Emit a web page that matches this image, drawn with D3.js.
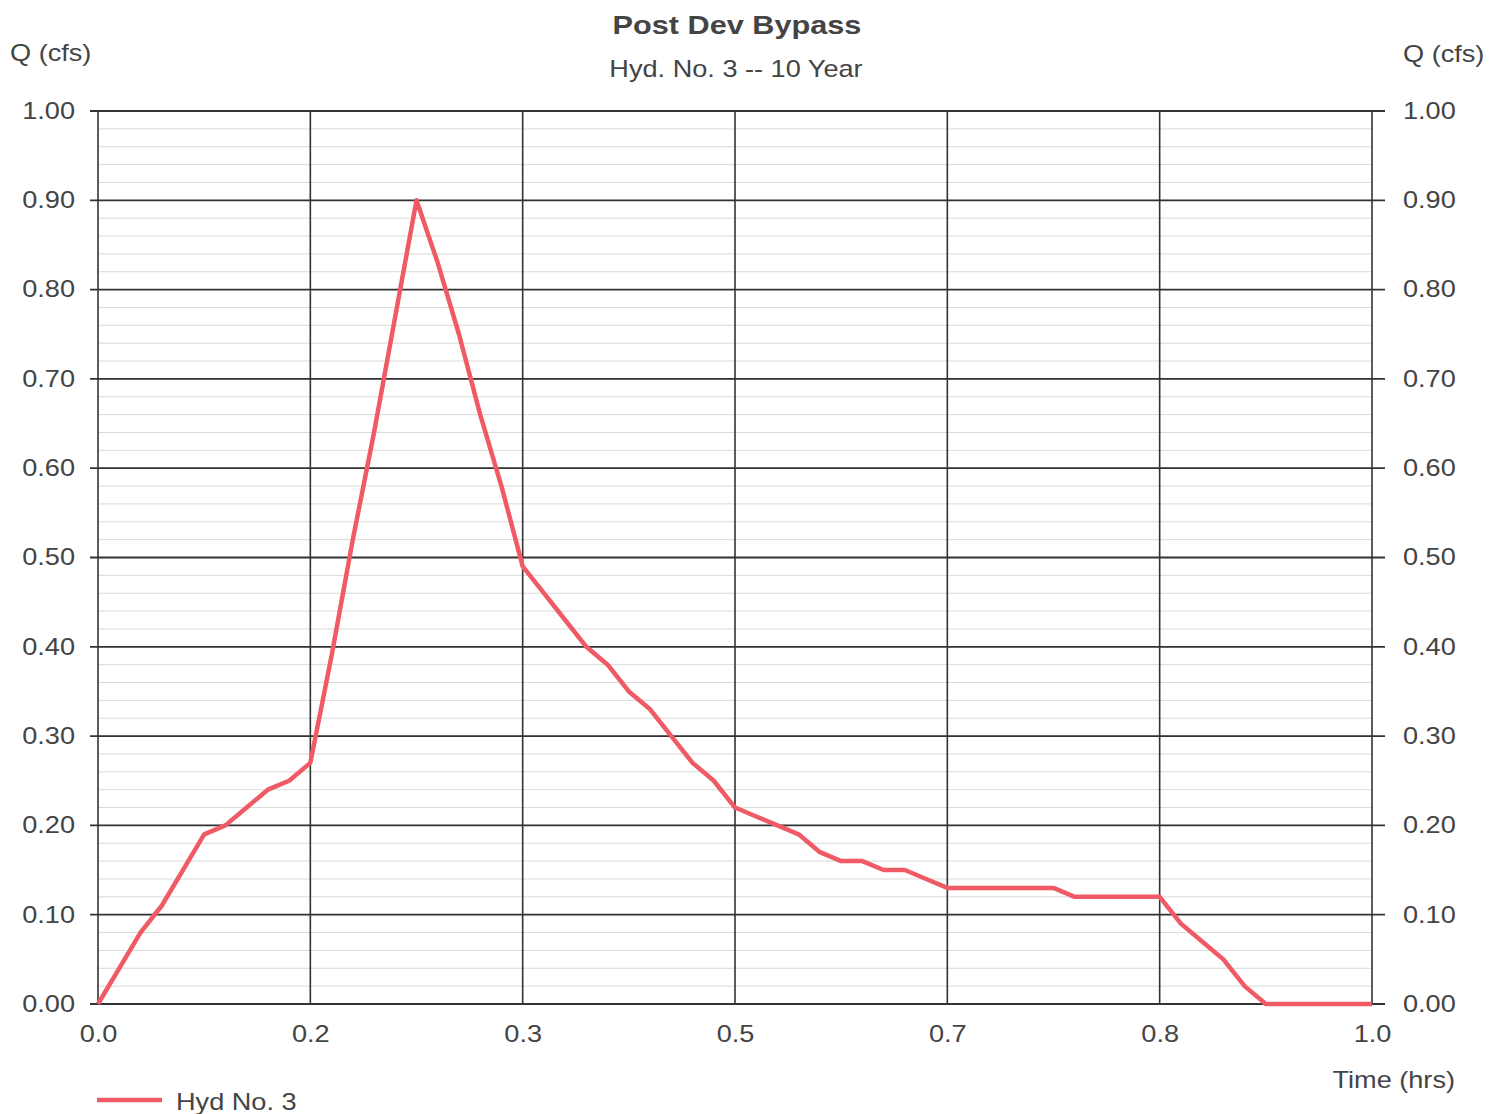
<!DOCTYPE html>
<html>
<head>
<meta charset="utf-8">
<script src="https://cdn.jsdelivr.net/npm/d3@7"></script>
<style>
  body { margin: 0; background: #fff; }
  svg text { font-family: "Liberation Sans", Arial, sans-serif; fill: #444; }
</style>
</head>
<body>
<svg id="chart" width="1501" height="1114"></svg>
<script>
// hydrograph ordinates, 1-minute steps
const timeMin = [0, 1, 2, 3, 4, 5, 6, 7, 8, 9, 10, 11, 12, 13, 14, 15, 16, 17, 18, 19, 20,
  21, 22, 23, 24, 25, 26, 27, 28, 29, 30, 31, 32, 33, 34, 35, 36, 37, 38, 39, 40,
  41, 42, 43, 44, 45, 46, 47, 48, 49, 50, 51, 52, 53, 54, 55, 56, 57, 58, 59, 60];
const flowCfs = [0, 0.04, 0.08, 0.11, 0.15, 0.19, 0.20, 0.22, 0.24, 0.25, 0.27,
  0.39, 0.52, 0.64, 0.77, 0.90, 0.83, 0.75, 0.66, 0.58, 0.49,
  0.46, 0.43, 0.40, 0.38, 0.35, 0.33, 0.30, 0.27, 0.25, 0.22,
  0.21, 0.20, 0.19, 0.17, 0.16, 0.16, 0.15, 0.15, 0.14, 0.13,
  0.13, 0.13, 0.13, 0.13, 0.13, 0.12, 0.12, 0.12, 0.12, 0.12,
  0.09, 0.07, 0.05, 0.02, 0, 0, 0, 0, 0, 0];

const xTicksMin = [0, 10, 20, 30, 40, 50, 60];
const xTickLabels = ["0.0", "0.2", "0.3", "0.5", "0.7", "0.8", "1.0"];
const yTicks = [0, 0.1, 0.2, 0.3, 0.4, 0.5, 0.6, 0.7, 0.8, 0.9, 1.0];
const yMinorTicks = d3.range(0, 1.0001, 0.02);

const plotLeft = 98, plotRight = 1372, plotTop = 111, plotBottom = 1004;
const stretch = "scale(1.18,1)"; // the source lettering is wide
const svg = d3.select("#chart");

const x = d3.scaleLinear().domain([0, 60]).range([plotLeft, plotRight]);
const y = d3.scaleLinear().domain([0, 1]).range([plotBottom, plotTop]);

// minor horizontal grid
svg.append("g")
  .selectAll("line")
  .data(yMinorTicks)
  .enter()
  .append("line")
  .attr("x1", plotLeft).attr("x2", plotRight)
  .attr("y1", d => y(d)).attr("y2", d => y(d))
  .attr("stroke", "#d9d9d9")
  .attr("stroke-width", 1);

// major horizontal grid with tick stubs on both sides
svg.append("g")
  .selectAll("line")
  .data(yTicks)
  .enter()
  .append("line")
  .attr("x1", plotLeft - 8).attr("x2", plotRight + 13)
  .attr("y1", d => y(d)).attr("y2", d => y(d))
  .attr("stroke", "#333")
  .attr("stroke-width", 1.8);

// vertical grid
svg.append("g")
  .selectAll("line")
  .data(xTicksMin)
  .enter()
  .append("line")
  .attr("x1", d => x(d)).attr("x2", d => x(d))
  .attr("y1", plotTop).attr("y2", plotBottom)
  .attr("stroke", "#333")
  .attr("stroke-width", 1.6);

// axis labels via d3 axes, domain/ticks hidden
const fmt = d3.format(".2f");
const yLeft = svg.append("g")
  .attr("transform", "translate(" + (plotLeft - 23) + ",0)")
  .call(d3.axisLeft(y).tickValues(yTicks).tickFormat(fmt).tickSize(0));
const yRight = svg.append("g")
  .attr("transform", "translate(" + (plotRight + 31) + ",0)")
  .call(d3.axisRight(y).tickValues(yTicks).tickFormat(fmt).tickSize(0));
const xAxis = svg.append("g")
  .attr("transform", "translate(0," + (plotBottom + 22) + ")")
  .call(d3.axisBottom(x).tickValues(xTicksMin).tickFormat((d, i) => xTickLabels[i]).tickSize(0));

[yLeft, yRight, xAxis].forEach(g => {
  g.select(".domain").remove();
  g.selectAll("text")
    .style("font-size", "23px")
    .style("font-family", "'Liberation Sans', Arial, sans-serif")
    .attr("fill", "#444")
    .attr("transform", stretch);
});
yLeft.selectAll("text").attr("x", 0);
yRight.selectAll("text").attr("x", 0);
xAxis.selectAll("text").attr("y", 0);

// hydrograph
const line = d3.line()
  .x((d, i) => x(timeMin[i]))
  .y(d => y(d));

svg.append("path")
  .datum(flowCfs)
  .attr("d", line)
  .attr("fill", "none")
  .attr("stroke", "#f05a64")
  .attr("stroke-width", 4.5)
  .attr("stroke-linejoin", "round");

function label(px, py, txt, size, anchor, bold) {
  svg.append("text")
    .attr("transform", "translate(" + px + "," + py + ") " + stretch)
    .attr("text-anchor", anchor)
    .style("font-size", size + "px")
    .style("font-weight", bold ? "bold" : "normal")
    .text(txt);
}

// titles
label(737, 34, "Post Dev Bypass", 26, "middle", true);
label(736, 77, "Hyd. No. 3 -- 10 Year", 23, "middle", false);
label(10, 61, "Q (cfs)", 23, "start", false);
label(1403, 62, "Q (cfs)", 23, "start", false);
label(1455, 1088, "Time (hrs)", 23, "end", false);

// legend
svg.append("line")
  .attr("x1", 97).attr("x2", 162)
  .attr("y1", 1100).attr("y2", 1100)
  .attr("stroke", "#f05a64")
  .attr("stroke-width", 4.5);

label(176, 1110, "Hyd No. 3", 23, "start", false);
</script>
</body>
</html>
